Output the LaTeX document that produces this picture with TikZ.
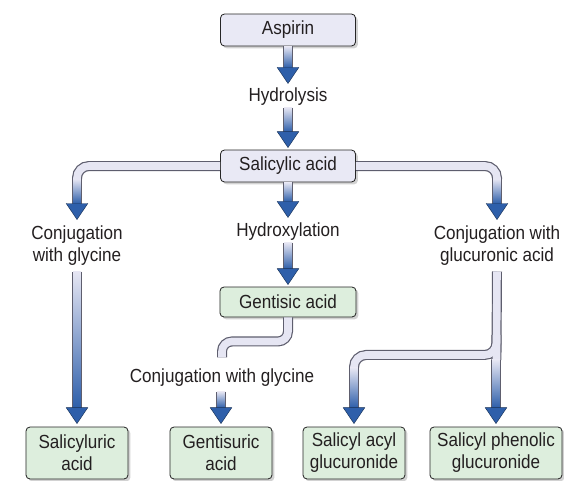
\documentclass[tikz,border=0pt]{standalone}
\usepackage{fontspec}
\setmainfont{Liberation Sans}[FakeStretch=0.9]
\usetikzlibrary{calc, shadows}

\definecolor{boxlav}{HTML}{E9E9F5}
\definecolor{boxgreen}{HTML}{DDEEDD}
\definecolor{tubelight}{HTML}{E6E6F3}
\definecolor{tubeblue}{HTML}{2E5FAA}
\definecolor{tubeedge}{HTML}{5E5E6E}
\definecolor{inkgray}{HTML}{231F20}

\tikzset{
  tubeout/.style={draw=tubeedge, line width=2.5mm, rounded corners=3mm},
  tubein/.style={draw=tubelight, line width=1.9mm, rounded corners=3mm},
}

% gradient stem and head of a tube arrow: #1 start of stem, #2 tip (vertical only)
\newcommand{\tubetip}[2]{%
  \draw[tubeedge, line width=2.5mm] let \p1=#1, \p2=#2 in (\x2,\y1) -- (\x2,\y2+3.9mm);
  \shade[top color=tubelight, middle color=tubelight!85!tubeblue, bottom color=tubeblue]
    let \p1=#1, \p2=#2 in (\x2-0.95mm,\y1) rectangle (\x2+0.95mm,\y2+4mm);
  \filldraw[fill=tubeblue, draw=tubeblue!50!black, line width=0.3pt]
    let \p2=#2 in (\x2-2.7mm,\y2+4mm) -- (\x2+2.7mm,\y2+4mm) -- (\x2,\y2) -- cycle;
}

\begin{document}
\begin{tikzpicture}[x=0.25mm, y=-0.25mm,
  every node/.style={font=\fontsize{13.5}{15.6}\selectfont, text=inkgray},
  box/.style={rectangle, draw=black!85, line width=0.6pt, rounded corners=1mm,
    align=center, inner sep=1pt,
    drop shadow={shadow xshift=0.6mm, shadow yshift=-0.6mm, fill=black!35}},
  lavbox/.style={box, fill=boxlav, minimum width=33.75mm, minimum height=8mm},
  greenbox/.style={box, fill=boxgreen, minimum height=13mm},
  lbl/.style={align=center, inner sep=1pt}]

\useasboundingbox (0,0) rectangle (564,481);

\node[lavbox] (aspirin) at (288,30) {Aspirin};
\node[lbl] (hydro) at (288,97) {Hydrolysis};
\node[lavbox] (salicylic) at (288,166) {Salicylic acid};
\node[lbl] (glyc) at (77,246) {Conjugation\\with glycine};
\node[lbl] (hydrox) at (288,232) {Hydroxylation};
\node[lbl] (glucu) at (497,246) {Conjugation with\\glucuronic acid};
\node[greenbox, minimum width=34mm, minimum height=7.5mm] (gentisic) at (288,302) {Gentisic acid};
\node[lbl] (conjgly) at (222,378) {Conjugation with glycine};
\node[greenbox, minimum width=25.5mm] (saluric) at (77,453) {Salicyluric\\acid};
\node[greenbox, minimum width=25.5mm] (gentisuric) at (221,453) {Gentisuric\\acid};
\node[greenbox, minimum width=25.5mm] (acyl) at (354,453) {Salicyl acyl\\glucuronide};
\node[greenbox, minimum width=33mm] (phenolic) at (496,453) {Salicyl phenolic\\glucuronide};

\coordinate (jn) at ($(glucu.south)!0.55!(phenolic.north)$);
\coordinate (gend) at ($(conjgly.north)+(0,-10)$);

% tube bodies, edges first, then the light fill
\foreach \pass in {tubeout, tubein} {
  \path[\pass] (salicylic.west) -| ($(salicylic.west -| glyc.north)+(0,13)$);
  \path[\pass] (salicylic.east) -| ($(salicylic.east -| glucu.north)+(0,13)$);
  \path[\pass, rounded corners=2.5mm] (gentisic.south) |- ($(gentisic.south)!0.6!(gend)$) -| (gend);
  \path[\pass] ($(glucu.south)+(0,4)$) -- ($(jn)+(0,5)$);
  \path[\pass] ($(jn)+(0,-20)$) -- (jn) -| ($(jn -| acyl.north)+(0,13)$);
}

% arrow ends
\tubetip{(aspirin.south)}{($(hydro.north)+(0,-3)$)}
\tubetip{(hydro.south)}{($(salicylic.north)+(0,-2)$)}
\tubetip{(salicylic.south)}{($(hydrox.north)+(0,-4)$)}
\tubetip{(hydrox.south)}{($(gentisic.north)+(0,-2)$)}
\tubetip{($(salicylic.west -| glyc.north)+(0,13)$)}{($(glyc.north)+(0,-5)$)}
\tubetip{($(salicylic.east -| glucu.north)+(0,13)$)}{($(glucu.north)+(0,-5)$)}
\tubetip{($(glyc.south)+(0,4)$)}{($(saluric.north)+(0,-3)$)}
\tubetip{($(conjgly.south)+(0,3)$)}{($(gentisuric.north)+(0,-3)$)}
\tubetip{($(jn)+(0,5)$)}{($(phenolic.north)+(0,-3)$)}
\tubetip{($(jn -| acyl.north)+(0,13)$)}{($(acyl.north)+(0,-3)$)}

\end{tikzpicture}
\end{document}
